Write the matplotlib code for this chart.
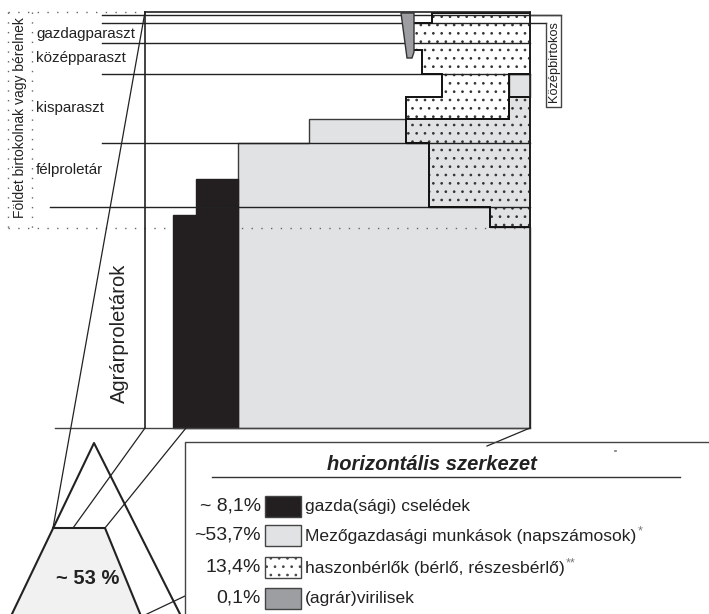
import matplotlib
matplotlib.use("Agg")
import matplotlib.pyplot as plt
from matplotlib.patches import Polygon

plt.rcParams['font.family'] = ['Liberation Sans', 'DejaVu Sans']
plt.rcParams['hatch.linewidth'] = 0.7

# ---------------- data ----------------
class_labels = ["gazdagparaszt", "középparaszt", "kisparaszt", "félproletár"]
class_label_y = [34, 58, 108, 170]
class_line_y = [15, 23, 43, 74, 143, 207]
class_line_x0 = [102, 102, 102, 102, 102, 50]
class_line_x1 = [561, 546, 530, 530, 530, 530]

# step profiles (schematic geometry, px)
cseled_x = [173, 173, 196, 196, 238, 238]
cseled_y = [428, 215, 215, 179, 179, 428]
napszam_x = [238, 238, 309, 309, 406, 406, 429, 429, 490, 490, 530, 530]
napszam_y = [428, 143, 143, 119, 119, 143, 143, 207, 207, 227, 227, 428]
napszam_top_x = [509, 530, 530, 509]
napszam_top_y = [74, 74, 97, 97]
berlo_white_x = [432, 530, 530, 509, 509, 406, 406, 442, 442, 422, 422, 413, 413, 432]
berlo_white_y = [13, 13, 74, 74, 119, 119, 97, 97, 74, 74, 50, 50, 23, 23]
berlo_gray_x = [509, 530, 530, 490, 490, 429, 429, 406, 406, 509]
berlo_gray_y = [97, 97, 227, 227, 207, 207, 143, 143, 119, 119]
viril_x = [401, 414, 414, 412, 407]
viril_y = [13, 13, 52, 58, 58]

legend_pct = ["~ 8,1%", "~53,7%", "13,4%", "0,1%"]
legend_labels = ["gazda(sági) cselédek", "Mezőgazdasági munkások (napszámosok)",
                 "haszonbérlők (bérlő, részesbérlő)", "(agrár)virilisek"]
legend_stars = ["", "*", "**", ""]
legend_y = [506, 535, 567, 598]

pyramid_share = "~ 53 %"

C_BLACK = "#231f20"
C_LGRAY = "#e1e2e4"
C_DGRAY = "#9d9ea1"
C_PYR = "#f1f1f2"

# ---------------- figure ----------------
fig = plt.figure(figsize=(7.09, 6.14), dpi=100)
ax = fig.add_axes([0, 0, 1, 1])
ax.set_xlim(0, 709)
ax.set_ylim(614, 0)
ax.axis('off')

def poly(xs, ys, **kw):
    p = Polygon(list(zip(xs, ys)), closed=True, **kw)
    ax.add_patch(p)
    return p

# light gray (napszamosok)
poly(napszam_x, napszam_y, facecolor=C_LGRAY, edgecolor="#3a3a3a", lw=1.0, zorder=1)
poly(napszam_top_x, napszam_top_y, facecolor=C_LGRAY, edgecolor="#3a3a3a", lw=1.0, zorder=1)

# dotted frame
dot = dict(color="#666666", lw=1.0, ls=(0, (1, 6)), zorder=2)
ax.plot([8, 145], [12, 12], **dot)
ax.plot([8, 8], [12, 228], **dot)
ax.plot([32, 32], [12, 228], **dot)
ax.plot([8, 530], [228, 228], **dot)

# black (cselédek)
poly(cseled_x, cseled_y, facecolor=C_BLACK, edgecolor=C_BLACK, lw=1.0, zorder=3)

# stipple areas (bérlők)
poly(berlo_gray_x, berlo_gray_y, facecolor=C_LGRAY, edgecolor="#333333", lw=0, hatch="..", zorder=3)
poly(berlo_white_x, berlo_white_y, facecolor="white", edgecolor="#333333", lw=0, hatch="..", zorder=3)

# class lines
for y, x0, x1 in zip(class_line_y, class_line_x0, class_line_x1):
    ax.plot([x0, x1], [y, y], color="#222222", lw=1.0, zorder=5)

# stipple outlines
poly(berlo_gray_x, berlo_gray_y, facecolor="none", edgecolor="#111111", lw=1.4, zorder=6)
poly(berlo_white_x, berlo_white_y, facecolor="none", edgecolor="#111111", lw=1.4, zorder=6)

# virilis wedge
poly(viril_x, viril_y, facecolor=C_DGRAY, edgecolor="#333333", lw=1.0, zorder=7)

# main frame
ax.plot([145, 530], [12, 12], color="#222222", lw=1.2, zorder=6)
ax.plot([145, 145], [12, 428], color="#222222", lw=1.2, zorder=6)
ax.plot([530, 530], [12, 428], color="#222222", lw=1.2, zorder=6)
ax.plot([55, 530], [428, 428], color="#444444", lw=1.0, zorder=6)

# Középbirtokos bracket
ax.plot([546, 546, 561, 561, 530], [23, 107, 107, 15, 15], color="#444444", lw=1.0, zorder=5)
ax.text(554, 62, "Középbirtokos", rotation=90, ha='center', va='center', fontsize=9.2, color="#222222")

# texts left
ax.text(20, 118, "Földet birtokolnak vagy bérelnek", rotation=90, ha='center', va='center',
        fontsize=10, color="#222222")
for lab, y in zip(class_labels, class_label_y):
    ax.text(36, y, lab, ha='left', va='center', fontsize=10.9, color="#222222")
ax.text(119, 333, "Agrárproletárok", rotation=90, ha='center', va='center', fontsize=14.5, color="#222222")

# connecting lines
ax.plot([145, 53], [12, 528], color="#222222", lw=0.9, zorder=6)
ax.plot([145, 73], [428, 528], color="#222222", lw=0.9, zorder=6)
ax.plot([186, 105], [428, 528], color="#222222", lw=0.9, zorder=6)
ax.plot([487, 530], [446, 428], color="#222222", lw=0.9, zorder=6)
ax.plot([147, 185], [614, 596], color="#222222", lw=0.9, zorder=6)

# pyramid
poly([53, 105, 141, 12], [528, 528, 616, 616], facecolor=C_PYR, edgecolor="none", zorder=4)
ax.plot([11, 94, 181], [616, 443, 616], color="#222222", lw=1.5, zorder=6)
ax.plot([53, 105, 141], [528, 528, 616], color="#222222", lw=1.5, zorder=6)
ax.text(88, 578, pyramid_share, ha='center', va='center', fontsize=14.5, fontweight='bold',
        color="#222222", zorder=8)

# legend box
ax.plot([185, 185, 709], [616, 442, 442], color="#444444", lw=1.0, zorder=6)
ax.plot([615, 616], [451, 451], color="#777777", lw=1.2)
ax.text(432, 465, "horizontális szerkezet", ha='center', va='center', fontsize=14.5,
        fontweight='bold', fontstyle='italic', color="#222222")
ax.plot([212, 680], [477, 477], color="#333333", lw=1.0)

swatch_fc = [C_BLACK, C_LGRAY, "white", C_DGRAY]
swatch_hatch = [None, None, "..", None]
label_objs = []
for pct, lab, y, fc, h in zip(legend_pct, legend_labels, legend_y, swatch_fc, swatch_hatch):
    ax.text(261, y, pct, ha='right', va='center', fontsize=14, color="#222222")
    poly([265, 301, 301, 265], [y - 10.5, y - 10.5, y + 10.5, y + 10.5], facecolor=fc,
         edgecolor="#444444", lw=1.0, hatch=h, zorder=5)
    t = ax.text(305, y + 1, lab, ha='left', va='center', fontsize=12.6, color="#222222")
    label_objs.append(t)

fig.canvas.draw()
r = fig.canvas.get_renderer()
inv = ax.transData.inverted()
for t, s, y in zip(label_objs, legend_stars, legend_y):
    if s:
        bb = t.get_window_extent(r)
        xe, _ = inv.transform((bb.x1, bb.y0))
        ax.text(xe + 1, y - 4, s, ha='left', va='center', fontsize=9, color="#777777")

fig.savefig("out.png", dpi=100)
